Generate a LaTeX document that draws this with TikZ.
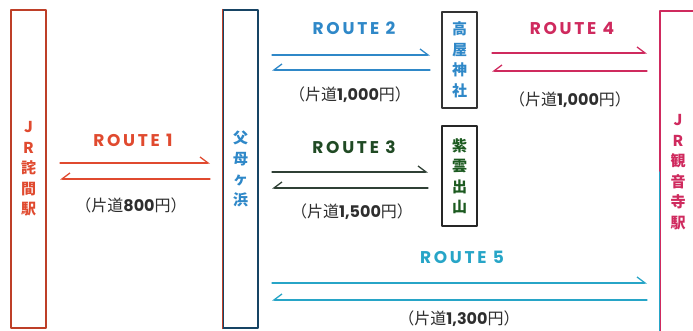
\documentclass[tikz,border=0pt]{standalone}
\usepackage{fontspec}
\usetikzlibrary{arrows.meta}
\newfontfamily\jp{Noto Sans CJK JP}
\newfontfamily\rt{Poppins}
\newfontfamily\rtw{Poppins}[LetterSpace=16]
\definecolor{rone}{HTML}{E04A2F}
\definecolor{rtwo}{HTML}{2F88C8}
\definecolor{rthree}{HTML}{2F4035}
\definecolor{rfour}{HTML}{CF2A5E}
\definecolor{rfive}{HTML}{27A5C7}
\definecolor{pricegray}{HTML}{2E2E2E}

\begin{document}
\begin{tikzpicture}[x=1pt,y=-1pt,line cap=round,line join=round,
    stn/.style={draw,line width=1.1pt,minimum width=35pt,inner sep=0pt,
      align=center,font=\jp\bfseries\fontsize{15}{20.5}\selectfont},
    rlabel/.style={font=\rtw\bfseries\fontsize{17}{17}\selectfont},
    price/.style={text=pricegray,font=\fontsize{16}{16}\selectfont},
    goR/.style={line width=1.3pt,-{Straight Barb[left,length=8pt,width=12pt]}},
    goL/.style={line width=1.3pt,-{Straight Barb[right,length=8pt,width=12pt]}}]
    \useasboundingbox (0,0) rectangle (693,331);
    \clip (0,0) rectangle (693,331);

    % stations
    \node[stn,draw=rone!85!black,text=rone,minimum height=318pt] (takuma) at (28.5,169) {J\\R\\詫\\間\\駅};
    \node[stn,draw=rtwo!50!black,text=rtwo,minimum height=318pt] (chichibu) at (240.5,169) {父\\母\\ヶ\\浜};
    \node[stn,draw=black!80,text=rtwo,minimum height=96pt] (takaya) at (459.5,60) {高\\屋\\神\\社};
    \node[stn,draw=black!85,text=rthree!75!green!80!black,minimum height=100pt] (shiude) at (459.5,176) {紫\\雲\\出\\山};
    \node[stn,draw=rfour,text=rfour,minimum width=36pt,minimum height=322pt] (kanonji) at (678,172) {J\\R\\観\\音\\寺\\駅};
    \draw[line width=1.1pt,rone!85!black] (chichibu.north west) -- (chichibu.south west);
    \draw[line width=1.1pt,rfive] (kanonji.west) -- (kanonji.south west);

    % route ends
    \coordinate (r1w) at (60,163);  \coordinate (r1e) at (210,163);
    \coordinate (r2w) at (272,55);  \coordinate (r2e) at (430,55);
    \coordinate (r3w) at (272,172); \coordinate (r3e) at (428,172);
    \coordinate (r4w) at (492,53);  \coordinate (r4e) at (647,53);
    \coordinate (r5w) at (272,283); \coordinate (r5e) at (647,283);

    \draw[goR,rone] (r1w) -- (r1e);
    \draw[goL,rone] ([yshift=-16pt]r1e) -- ([yshift=-16pt]r1w);
    \draw[goR,rtwo] (r2w) -- (r2e);
    \draw[goL,rtwo] ([yshift=-15pt]r2e) -- ([yshift=-15pt]r2w);
    \draw[goR,rthree] (r3w) -- (r3e);
    \draw[goL,rthree] ([yshift=-16pt]r3e) -- ([yshift=-16pt]r3w);
    \draw[goR,rfour] (r4w) -- (r4e);
    \draw[goL,rfour] ([yshift=-18pt]r4e) -- ([yshift=-18pt]r4w);
    \draw[goR,rfive] (r5w) -- (r5e);
    \draw[goL,rfive] ([yshift=-17pt]r5e) -- ([yshift=-17pt]r5w);

    % labels
    \node[rlabel,text=rone] (lab1) at (133,140) {ROUTE 1};
    \node[rlabel,text=rtwo] (lab2) at (354,28) {ROUTE 2};
    \node[rlabel,text=rthree!85!green!80!black] (lab3) at (354,147) {ROUTE 3};
    \node[rlabel,text=rfour] (lab4) at (572,28) {ROUTE 4};
    \node[rlabel,text=rfive] (lab5) at (462,257) {ROUTE 5};

    \node[price] (fare1) at (131,205) {{\jp （片道}{\rt\bfseries 800}{\jp 円）}};
    \node[price] (fare2) at (350,95) {{\jp （片道}{\rt\bfseries 1,000}{\jp 円）}};
    \node[price] (fare3) at (352,212) {{\jp （片道}{\rt\bfseries 1,500}{\jp 円）}};
    \node[price] (fare4) at (570,100) {{\jp （片道}{\rt\bfseries 1,000}{\jp 円）}};
    \node[price] (fare5) at (459,319) {{\jp （片道}{\rt\bfseries 1,300}{\jp 円）}};
\end{tikzpicture}
\end{document}
